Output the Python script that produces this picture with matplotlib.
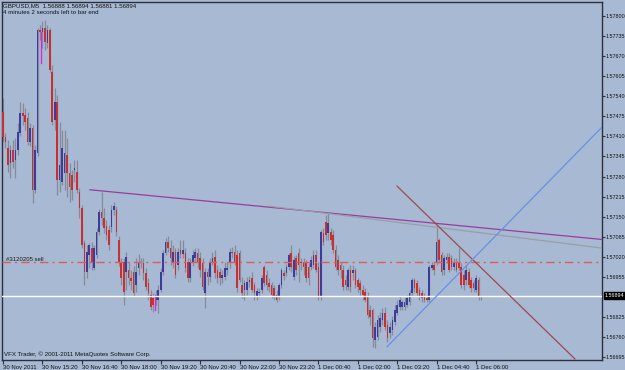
import matplotlib
matplotlib.use("Agg")
import matplotlib.pyplot as plt
import numpy as np

# GBPUSD M5 candles, 30 Nov 2011 14:00 onwards
opens = [1.57489, 1.57408, 1.57372, 1.57324, 1.57366, 1.57333, 1.57366, 1.57421, 1.57486, 1.57479,
         1.57470, 1.57392, 1.57437, 1.57236, 1.57356, 1.57755, 1.57748, 1.57761, 1.57712, 1.57755,
         1.57619, 1.57463, 1.57521, 1.57269, 1.57262, 1.57291, 1.57350, 1.57291, 1.57285, 1.57301,
         1.57295, 1.57230, 1.57178, 1.57065, 1.56971, 1.57026, 1.57048, 1.56984, 1.57026, 1.57100,
         1.57165, 1.57146, 1.57120, 1.57107, 1.57116, 1.57171, 1.57171, 1.57074, 1.57003, 1.57003,
         1.56971, 1.56977, 1.56951, 1.56971, 1.56928, 1.56984, 1.57000, 1.57000, 1.56967, 1.56935,
         1.56896, 1.56886, 1.56880, 1.56880, 1.56912, 1.56971, 1.57032, 1.57068, 1.57048, 1.57003,
         1.57035, 1.56993, 1.57042, 1.57029, 1.57032, 1.57003, 1.56951, 1.57003, 1.57016, 1.57032,
         1.57016, 1.57000, 1.56902, 1.56971, 1.56954, 1.57003, 1.57019, 1.56977, 1.56971, 1.56951,
         1.56954, 1.56977, 1.57003, 1.57035, 1.57035, 1.57026,
         1.57032, 1.56928, 1.56912, 1.56912, 1.56938, 1.56951, 1.56928, 1.56890, 1.56902, 1.56912,
         1.56987, 1.56961, 1.56935, 1.56928, 1.56919, 1.56896, 1.56890, 1.56928, 1.56967, 1.56967,
         1.56987, 1.57032, 1.56954, 1.57016, 1.57032, 1.57003, 1.57003, 1.57000, 1.56987, 1.56987,
         1.56993, 1.57026, 1.56987, 1.56890, 1.57097, 1.57133, 1.57097, 1.57100, 1.57090, 1.57042,
         1.57009, 1.56993, 1.56977, 1.56945, 1.56922, 1.56977, 1.56967, 1.56977, 1.56945, 1.56935,
         1.56912, 1.56906, 1.56890, 1.56847, 1.56847, 1.56750, 1.56760, 1.56792, 1.56815, 1.56838,
         1.56799, 1.56773, 1.56783, 1.56809, 1.56838, 1.56857, 1.56857, 1.56857, 1.56864, 1.56873,
         1.56902, 1.56945, 1.56935, 1.56912, 1.56902, 1.56890, 1.56886, 1.56880, 1.56984, 1.56993,
         1.57000, 1.57074, 1.57026, 1.56977, 1.57009, 1.57019, 1.57016, 1.56987, 1.57003, 1.57000,
         1.56987, 1.56961, 1.56945, 1.56971, 1.56945, 1.56935, 1.56912, 1.56945, 1.56888]
highs = [1.57534, 1.57421, 1.57398, 1.57382, 1.57398, 1.57405, 1.57453, 1.57521, 1.57518, 1.57502,
         1.57489, 1.57453, 1.57447, 1.57382, 1.57761, 1.57771, 1.57784, 1.57787, 1.57771, 1.57761,
         1.57641, 1.57567, 1.57544, 1.57457, 1.57431, 1.57431, 1.57405, 1.57324, 1.57301, 1.57333,
         1.57333, 1.57243, 1.57188, 1.57074, 1.57058, 1.57065, 1.57068, 1.57058, 1.57113, 1.57175,
         1.57230, 1.57178, 1.57139, 1.57123, 1.57188, 1.57197, 1.57184, 1.57087, 1.57016, 1.57016,
         1.57035, 1.57003, 1.56977, 1.56990, 1.57016, 1.57029, 1.57016, 1.57016, 1.56984, 1.56951,
         1.56912, 1.56902, 1.56912, 1.56928, 1.56984, 1.57042, 1.57081, 1.57087, 1.57074, 1.57058,
         1.57048, 1.57048, 1.57074, 1.57074, 1.57048, 1.57016, 1.57016, 1.57042, 1.57048, 1.57048,
         1.57035, 1.57016, 1.56984, 1.56984, 1.57016, 1.57035, 1.57042, 1.56993, 1.56984, 1.56977,
         1.57003, 1.57003, 1.57048, 1.57052, 1.57058, 1.57042,
         1.57042, 1.56954, 1.56945, 1.56954, 1.56958, 1.56971, 1.56938, 1.56919, 1.56919, 1.56961,
         1.56993, 1.56977, 1.56951, 1.56938, 1.56928, 1.56912, 1.56935, 1.56984, 1.56977, 1.56996,
         1.57032, 1.57058, 1.57022, 1.57026, 1.57048, 1.57016, 1.57016, 1.57009, 1.57000, 1.57022,
         1.57042, 1.57042, 1.57003, 1.57107, 1.57113, 1.57155, 1.57162, 1.57113, 1.57107, 1.57058,
         1.57026, 1.57003, 1.56993, 1.56961, 1.56984, 1.56993, 1.56993, 1.56984, 1.56951, 1.56945,
         1.56928, 1.56919, 1.56906, 1.56864, 1.56854, 1.56809, 1.56831, 1.56841, 1.56854, 1.56857,
         1.56815, 1.56809, 1.56828, 1.56864, 1.56880, 1.56890, 1.56880, 1.56890, 1.56896, 1.56912,
         1.56951, 1.56951, 1.56945, 1.56922, 1.56912, 1.56902, 1.56896, 1.56993, 1.57003, 1.57003,
         1.57123, 1.57081, 1.57035, 1.57026, 1.57032, 1.57032, 1.57026, 1.57016, 1.57016, 1.57048,
         1.57000, 1.56977, 1.56993, 1.56984, 1.56954, 1.56945, 1.56961, 1.56954, 1.56894]
lows = [1.57392, 1.57372, 1.57295, 1.57275, 1.57308, 1.57275, 1.57350, 1.57411, 1.57447, 1.57431,
        1.57382, 1.57379, 1.57194, 1.57227, 1.57346, 1.57722, 1.57696, 1.57690, 1.57696, 1.57619,
        1.57447, 1.57431, 1.57220, 1.57230, 1.57252, 1.57236, 1.57214, 1.57197, 1.57204, 1.57262,
        1.57227, 1.57146, 1.57048, 1.56928, 1.56951, 1.56984, 1.56977, 1.56977, 1.57016, 1.57090,
        1.57123, 1.57097, 1.57074, 1.57042, 1.57100, 1.57155, 1.57087, 1.56990, 1.56928, 1.56864,
        1.56912, 1.56928, 1.56912, 1.56893, 1.56906, 1.56961, 1.56984, 1.56945, 1.56912, 1.56880,
        1.56847, 1.56841, 1.56864, 1.56838, 1.56906, 1.56961, 1.57026, 1.57035, 1.56993, 1.56984,
        1.56951, 1.56977, 1.57016, 1.57016, 1.56971, 1.56938, 1.56938, 1.56990, 1.57003, 1.56984,
        1.56954, 1.56912, 1.56854, 1.56928, 1.56938, 1.56993, 1.56951, 1.56935, 1.56928, 1.56935,
        1.56945, 1.56961, 1.56984, 1.57016, 1.56993, 1.56906,
        1.56938, 1.56886, 1.56880, 1.56896, 1.56922, 1.56906, 1.56880, 1.56880, 1.56890, 1.56902,
        1.56925, 1.56912, 1.56906, 1.56886, 1.56880, 1.56873, 1.56880, 1.56919, 1.56945, 1.56958,
        1.56977, 1.56971, 1.56945, 1.56961, 1.56938, 1.56977, 1.56961, 1.56938, 1.56928, 1.56977,
        1.56984, 1.56971, 1.56880, 1.56880, 1.57058, 1.57074, 1.57074, 1.57058, 1.57032, 1.56977,
        1.56961, 1.56951, 1.56912, 1.56912, 1.56912, 1.56906, 1.56945, 1.56919, 1.56906, 1.56896,
        1.56880, 1.56873, 1.56822, 1.56799, 1.56728, 1.56724, 1.56750, 1.56776, 1.56799, 1.56783,
        1.56744, 1.56757, 1.56766, 1.56799, 1.56831, 1.56847, 1.56847, 1.56847, 1.56857, 1.56864,
        1.56893, 1.56906, 1.56893, 1.56880, 1.56873, 1.56873, 1.56873, 1.56873, 1.56977, 1.56961,
        1.56993, 1.57000, 1.56961, 1.56961, 1.57000, 1.56971, 1.56977, 1.56977, 1.56971, 1.56977,
        1.56919, 1.56912, 1.56928, 1.56919, 1.56906, 1.56906, 1.56906, 1.56880, 1.56881]
closes = [1.57408, 1.57392, 1.57317, 1.57366, 1.57327, 1.57366, 1.57424, 1.57486, 1.57476, 1.57457,
          1.57392, 1.57437, 1.57236, 1.57366, 1.57755, 1.57748, 1.57761, 1.57716, 1.57755, 1.57625,
          1.57457, 1.57521, 1.57269, 1.57317, 1.57372, 1.57356, 1.57291, 1.57246, 1.57236, 1.57308,
          1.57236, 1.57178, 1.57058, 1.56971, 1.57035, 1.57058, 1.57003, 1.57048, 1.57100, 1.57165,
          1.57146, 1.57113, 1.57090, 1.57058, 1.57171, 1.57184, 1.57100, 1.57003, 1.56951, 1.56906,
          1.57019, 1.56951, 1.56941, 1.56902, 1.56971, 1.57003, 1.57003, 1.56967, 1.56922, 1.56902,
          1.56857, 1.56864, 1.56890, 1.56912, 1.56971, 1.57032, 1.57068, 1.57048, 1.57016, 1.57035,
          1.56961, 1.57035, 1.57029, 1.57042, 1.56984, 1.56951, 1.57003, 1.57026, 1.57035, 1.57003,
          1.56977, 1.56922, 1.56971, 1.56954, 1.57003, 1.57016, 1.56967, 1.56951, 1.56951, 1.56961,
          1.56984, 1.56984, 1.57035, 1.57032, 1.57003, 1.56919,
          1.56945, 1.56902, 1.56935, 1.56938, 1.56945, 1.56912, 1.56902, 1.56909, 1.56906, 1.56951,
          1.56935, 1.56928, 1.56922, 1.56896, 1.56890, 1.56880, 1.56928, 1.56977, 1.56958, 1.56987,
          1.57026, 1.56987, 1.57009, 1.56977, 1.56993, 1.57000, 1.56987, 1.56951, 1.56951, 1.57009,
          1.57026, 1.56977, 1.56890, 1.57100, 1.57068, 1.57090, 1.57129, 1.57074, 1.57042, 1.56987,
          1.56977, 1.56977, 1.56922, 1.56928, 1.56977, 1.56922, 1.56977, 1.56928, 1.56922, 1.56912,
          1.56896, 1.56880, 1.56831, 1.56825, 1.56757, 1.56792, 1.56815, 1.56822, 1.56838, 1.56792,
          1.56757, 1.56792, 1.56815, 1.56847, 1.56864, 1.56880, 1.56873, 1.56873, 1.56886, 1.56902,
          1.56945, 1.56919, 1.56902, 1.56890, 1.56886, 1.56880, 1.56880, 1.56987, 1.56993, 1.56977,
          1.57068, 1.57009, 1.56971, 1.57016, 1.57019, 1.56977, 1.56987, 1.57003, 1.56977, 1.56984,
          1.56928, 1.56928, 1.56977, 1.56928, 1.56919, 1.56919, 1.56951, 1.56890, 1.56894]

# axis labels
time_labels = ["30 Nov 2011", "30 Nov 15:20", "30 Nov 16:40", "30 Nov 18:00", "30 Nov 19:20",
               "30 Nov 20:40", "30 Nov 22:00", "30 Nov 23:20", "1 Dec 00:40", "1 Dec 02:00",
               "1 Dec 03:20", "1 Dec 04:40", "1 Dec 06:00"]
time_tick_bars = [0, 16, 32, 48, 64, 80, 96, 112, 128, 144, 160, 176, 192]
price_ticks = [1.56695, 1.56760, 1.56825, 1.56955, 1.57020, 1.57085, 1.57150, 1.57215,
               1.57280, 1.57345, 1.57410, 1.57475, 1.57540, 1.57605, 1.57670, 1.57735, 1.57800]

# objects drawn on the chart: (bar, price) anchors
purple_line = [(35.3, 1.57237), (243.1, 1.57076)]
gray_line = [(108.0, 1.57184), (243.1, 1.57048)]
brown_line = [(159.9, 1.57249), (232.1, 1.56689)]
blue_line = [(155.8, 1.56728), (243.1, 1.57440)]
order_price = 1.57003
order_label = "#3120205 sell"
bid_price = 1.56894
marks = [(15.4, 1.57748, 1.57648), (61.5, 1.56896, 1.56847)]

header1 = "GBPUSD,M5  1.56888 1.56894 1.56881 1.56894"
header2 = "4 minutes 2 seconds left to bar end"
footer = "VFX Trader, \u00a9 2001-2011 MetaQuotes Software Corp."

bg = "#a8b9d3"
bull = "#3b3c9e"
bear = "#c92f2f"
wick = "#858b98"
frame = "#2b303c"
font = "Liberation Sans"

plt.rcParams["font.family"] = [font, "DejaVu Sans"]

fig = plt.figure(figsize=(6.25, 3.7), dpi=100, facecolor=bg)
ax = fig.add_axes([2 / 625, 10 / 370, 600 / 625, 358 / 370], facecolor=bg)

o = np.array(opens)
c = np.array(closes)
h = np.array(highs)
l = np.array(lows)
x = np.arange(len(c))

# wicks then bodies
ax.vlines(x, l, h, color=wick, lw=0.9, zorder=2)
up = c >= o
body_bot = np.minimum(o, c)
body_h = np.maximum(np.abs(c - o), 0.00002)
ax.bar(x[up], body_h[up], bottom=body_bot[up], width=0.66, color=bull, lw=0, zorder=3)
ax.bar(x[~up], body_h[~up], bottom=body_bot[~up], width=0.66, color=bear, lw=0, zorder=3)

# magenta markers
for bx, p1, p2 in marks:
    ax.plot([bx, bx], [p1, p2], color="#e020e0", lw=0.9, zorder=4)

# trend lines
for pts, col in [(purple_line, "#9a3c9e"), (gray_line, "#9a9ea8"),
                 (brown_line, "#9c4b4b"), (blue_line, "#6a8fe6")]:
    ax.plot([pts[0][0], pts[1][0]], [pts[0][1], pts[1][1]], color=col, lw=0.9, zorder=5)

# order line and bid line
ax.axhline(order_price, xmin=0, xmax=0.993, color="#e45a5a", lw=1.0,
           dashes=(6, 3, 1.5, 3), zorder=4)
ax.text(0.006, order_price, order_label, transform=ax.get_yaxis_transform(),
        fontsize=4.3, color="#1a1a1a", va="bottom", ha="left")
ax.axhline(bid_price, color="white", lw=1.0, zorder=4)

ax.set_xlim(-0.41, 243.1)
ax.set_ylim(1.566855, 1.578454)

for sp in ax.spines.values():
    sp.set_color(frame)
    sp.set_linewidth(1.0)

ax.yaxis.tick_right()
ax.set_yticks(price_ticks)
ax.set_yticklabels(["%.5f" % p for p in price_ticks])
ax.tick_params(axis="y", direction="out", length=2, width=0.8, colors=frame,
               labelsize=3.9, pad=0.6, labelcolor="#111111")
ax.set_xticks(time_tick_bars)
ax.set_xticklabels(time_labels, ha="left")
ax.tick_params(axis="x", direction="out", length=3, width=0.8, colors=frame,
               labelsize=4.3, pad=0.3, labelcolor="#111111")

# current price box on the scale
ax.text(1.0045, bid_price, "%.5f" % bid_price, transform=ax.get_yaxis_transform(),
        fontsize=3.9, color="white", va="center", ha="left", zorder=6,
        bbox=dict(boxstyle="square,pad=0.12", fc="black", ec="black"))

fig.text(3 / 625, 1 - 6 / 370, header1, fontsize=4.4, color="#111111", va="center")
fig.text(3 / 625, 1 - 13 / 370, header2, fontsize=4.4, color="#111111", va="center")
fig.text(4 / 625, 1 - 354 / 370, footer, fontsize=4.4, color="#111111", va="center")

fig.savefig("out.png", dpi=100, facecolor=bg)
